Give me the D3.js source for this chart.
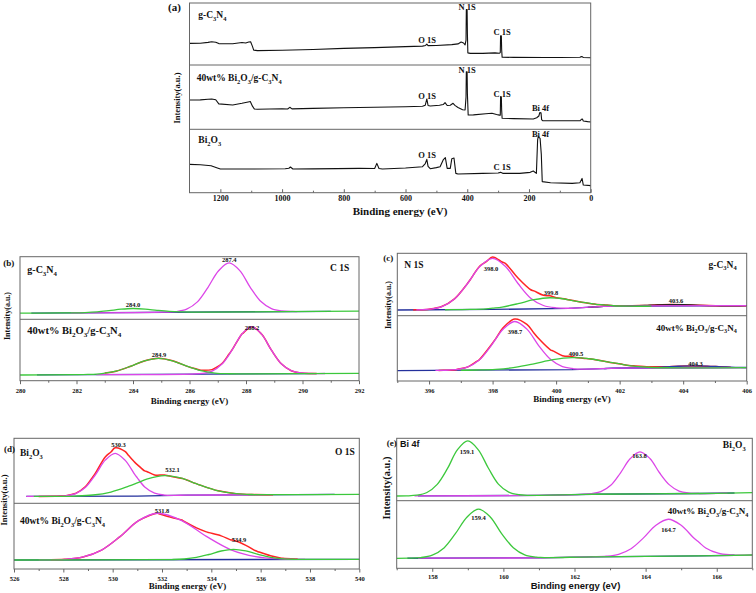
<!DOCTYPE html>
<html><head><meta charset="utf-8">
<script src="https://cdn.jsdelivr.net/npm/d3@7"></script>
<style>body{margin:0;background:#fff}svg{display:block}</style>
</head><body><svg id="c" width="756" height="593"></svg>
<script>
// ---------------- DATA ----------------
// (a) survey spectra: [binding energy eV, intensity (a.u., 0-100 per row)]
const surveyTicks = [1200, 1000, 800, 600, 400, 200, 0];
const surveyMinor = [1100, 900, 700, 500, 300, 100];
const surveyG = [[1300,34.8],[1265,35.0],[1240,36.5],[1228,37.4],[1215,36.8],[1205,34.5],[1160,34.3],[1130,36.2],[1118,35.5],[1108,37.2],[1102,37.5],[1096,30],[1092,24.0],[1080,23.2],[1000,23.8],[900,25.0],[800,26.8],[700,28.0],[600,29.6],[545,30.5],[535,31.5],[531,33.6],[527,31.2],[500,31.5],[450,32.8],[430,34.0],[420,37.0],[412,35.5],[407,32.5],[404,40],[403,89.3],[400.5,89.3],[399.5,50],[398,19.5],[390,18.7],[350,18.7],[310,19.5],[296,19.0],[293,20],[292,47],[289.5,47],[288.5,25],[287,12.5],[250,12.3],[150,12.2],[100,12.0],[35,12.5],[30,13.5],[27,13.4],[24,12.0],[0,11.8]];
const surveyComposite = [[1300,45.6],[1265,45.8],[1240,46.8],[1228,47.2],[1215,46.0],[1205,39.5],[1160,37.8],[1130,40.4],[1110,42.5],[1103,43.2],[1096,36],[1090,31.6],[1080,31.1],[1000,32.0],[982,31.5],[975,34.2],[968,31.8],[900,32.5],[800,33.5],[700,34.2],[600,35.0],[545,35.8],[536,37.5],[531,47.2],[527,37],[520,36.3],[490,37.3],[478,38.5],[472,41.5],[465,37.0],[455,37.5],[446,40.4],[440,37.2],[430,34],[415,30.5],[407,30],[404,50],[403,89.6],[400.5,89.6],[399.5,55],[397,22.3],[380,22.5],[340,24.3],[320,24.9],[305,23.0],[296,22.0],[293,22],[292,50.8],[289.5,50.5],[288.5,30],[287,17.1],[250,16.6],[186,16.1],[175,18],[168,20.7],[165,25.9],[161,25.5],[159,15],[156,13.5],[100,13.2],[35,13.2],[30,15.5],[27,16.1],[24,13.0],[10,12.0],[0,11.4]];
const surveyBi2O3 = [[1300,44.7],[1265,44.2],[1230,42.6],[1212,39.5],[1200,37.4],[1100,37.4],[990,37.8],[978,38.6],[973,40.5],[965,37.4],[900,37.6],[822,37.9],[750,38.4],[700,38.2],[693,46.3],[686,38.3],[675,37.4],[600,38.9],[545,41],[536,46],[531,52.6],[527,41.5],[520,37.9],[500,39.5],[488,41],[478,51.6],[471,55.3],[465,38.4],[455,38.4],[450,53.7],[443,54.7],[437,30.5],[430,29.5],[350,30.5],[300,31.0],[292,32.1],[285,30.5],[230,30.5],[196,32.1],[186,34.2],[176,30.5],[172,83.2],[170,88.4],[164,85.8],[160,60],[157,17.4],[130,15.8],[60,14.7],[35,15.8],[28,22.6],[24,12.1],[0,11.1]];

// (b) C 1s: baselines and fitted components [eV, height above baseline]
const c1sTicks = [280, 282, 284, 286, 288, 290, 292];
const c1sG_base = [[280,9.8],[292,13]];
const c1sG_284 = [[281.45,0.01],[281.88,0.08],[282.3,0.4],[282.73,1.34],[283.15,3.2],[283.58,5.38],[284.0,6.4],[284.43,5.38],[284.85,3.2],[285.28,1.34],[285.7,0.4],[286.13,0.08],[286.55,0.01]];
const c1sG_287 = [[285.15,0.15],[285.53,1.03],[285.9,4.89],[286.28,16.4],[286.65,39.2],[287.03,65.9],[287.4,78.3],[287.78,65.9],[288.15,39.2],[288.53,16.4],[288.9,4.89],[289.28,1.03],[289.65,0.15]];
const c1sC_base = [[280,9.3],[292,12]];
const c1sC_285 = [[281.9,0.05],[282.4,0.34],[282.9,1.63],[283.4,5.48],[283.9,13.05],[284.4,21.95],[284.9,26.1],[285.4,21.95],[285.9,13.05],[286.4,5.48],[286.9,1.63],[287.4,0.34],[287.9,0.05]];
const c1sC_288 = [[286.1,0.15],[286.45,1.01],[286.8,4.81],[287.15,16.15],[287.5,38.45],[287.85,64.67],[288.2,76.9],[288.55,64.67],[288.9,38.45],[289.25,16.15],[289.6,4.81],[289.95,1.01],[290.3,0.15]];

// (c) N 1s
const n1sTicks = [396, 398, 400, 402, 404, 406];
const n1sG_base = [[395,9.1],[398,10],[400.4,11.8],[401.5,14.8],[406,16]];
const n1sG_398 = [[395.6,0.16],[396.0,1.07],[396.4,5.13],[396.8,17.22],[397.2,41],[397.6,68.96],[398.0,82],[398.4,68.96],[398.8,41],[399.2,17.22],[399.6,5.13],[400.0,1.07],[400.4,0.16]];
const n1sG_400 = [[396.8,0.03],[397.3,0.23],[397.8,1.09],[398.3,3.65],[398.8,8.7],[399.3,14.63],[399.8,17.4],[400.3,14.63],[400.8,8.7],[401.3,3.65],[401.8,1.09],[402.3,0.23],[402.8,0.03]];
const n1sG_404 = [[401.2,0],[401.6,0.03],[402.0,0.16],[402.4,0.53],[402.8,1.25],[403.2,2.1],[403.6,2.5],[404.0,2.1],[404.4,1.25],[404.8,0.53],[405.2,0.16],[405.6,0.03],[406.0,0]];
const n1sC_base = [[395,15.8],[400.5,17.5],[402,19.8],[406,20.4]];
const n1sC_399 = [[396.45,0.14],[396.83,0.97],[397.2,4.64],[397.58,15.58],[397.95,37.1],[398.33,62.4],[398.7,74.2],[399.08,62.4],[399.45,37.1],[399.83,15.58],[400.2,4.64],[400.58,0.97],[400.95,0.14]];
const n1sC_401 = [[396.9,0.04],[397.5,0.24],[398.1,1.14],[398.7,3.82],[399.3,9.1],[399.9,15.3],[400.5,18.2],[401.1,15.3],[401.7,9.1],[402.3,3.82],[402.9,1.14],[403.5,0.24],[404.1,0.04]];
const n1sC_404 = [[401.6,0.01],[402.05,0.04],[402.5,0.19],[402.95,0.63],[403.4,1.5],[403.85,2.52],[404.3,3],[404.75,2.52],[405.2,1.5],[405.65,0.63],[406.0,0.25]];

// (d) O 1s
const o1sTicks = [526, 528, 530, 532, 534, 536, 538, 540];
const o1sB_base = [[526,10.5],[531,11],[533,12.5],[540,13.8]];
const o1sB_530 = [[527.7,0.13],[528.1,0.86],[528.5,4.13],[528.9,13.86],[529.3,33],[529.7,55.5],[530.1,66],[530.5,55.5],[530.9,33],[531.3,13.86],[531.7,4.13],[532.1,0.86],[532.5,0.13]];
const o1sB_532 = [[527.75,0.06],[528.48,0.4],[529.2,1.92],[529.93,6.45],[530.65,15.35],[531.38,25.82],[532.1,30.7],[532.83,25.82],[533.55,15.35],[534.28,6.45],[535.0,1.92],[535.73,0.4],[536.45,0.06]];
const o1sC_base = [[526,13.7],[540,14.8]];
const o1sC_532 = [[527.3,0.14],[528.05,0.93],[528.8,4.42],[529.55,14.85],[530.3,35.35],[531.05,59.46],[531.8,70.7],[532.8,59.46],[533.8,35.35],[534.8,14.85],[535.8,4.42],[536.8,0.93],[537.8,0.14]];
const o1sC_535 = [[531.9,0.03],[532.4,0.2],[532.9,0.97],[533.4,3.26],[533.9,7.75],[534.4,13.04],[534.9,15.5],[535.4,13.04],[535.9,7.75],[536.4,3.26],[536.9,0.97],[537.4,0.2],[537.9,0.03]];

// (e) Bi 4f
const bi4fTicks = [158, 160, 162, 164, 166];
const bi4fB_base = [[157,7.5],[161,8.5],[162.5,10.3],[165.5,11.5],[167,12.8]];
const bi4fB_159 = [[157.28,0.17],[157.56,1.15],[157.85,5.49],[158.14,18.44],[158.43,43.9],[158.71,73.84],[159.0,87.8],[159.29,73.84],[159.58,43.9],[159.86,18.44],[160.15,5.49],[160.44,1.15],[160.73,0.17]];
const bi4fB_164 = [[162.19,0.13],[162.47,0.88],[162.74,4.22],[163.02,14.18],[163.29,33.75],[163.57,56.77],[163.84,67.5],[164.12,56.77],[164.39,33.75],[164.67,14.18],[164.94,4.22],[165.22,0.88],[165.49,0.13]];
const bi4fC_base = [[157,14.8],[161,15.5],[162.5,17],[165.5,18.5],[167,19.7]];
const bi4fC_159 = [[157.35,0.14],[157.68,0.95],[158.0,4.51],[158.33,15.16],[158.65,36.1],[158.98,60.72],[159.3,72.2],[159.63,60.72],[159.95,36.1],[160.28,15.16],[160.6,4.51],[160.93,0.95],[161.25,0.14]];
const bi4fC_165 = [[162.54,0.11],[162.89,0.71],[163.24,3.41],[163.59,11.45],[163.94,27.25],[164.29,45.83],[164.64,54.5],[164.99,45.83],[165.34,27.25],[165.69,11.45],[166.04,3.41],[166.39,0.71],[166.74,0.11]];

// ---------------- DRAWING ----------------
const MAG = "#dc46e8", GRN = "#3cc83c", RED = "#ff2424", NAVY = "#24309c", FRAME = "#666";
const SERIF = "'Liberation Serif','Times New Roman',serif";
const SANS = "'Liberation Sans',Arial,sans-serif";
const svg = d3.select("#c");

function rich(g, str, x, y, size, anchor, fam) {
  const t = g.append("text").attr("x", x).attr("y", y).attr("font-size", size)
    .attr("text-anchor", anchor || "start").attr("font-family", fam || SERIF)
    .attr("font-weight", "bold").attr("fill", "#111");
  const parts = str.split(/(_\d)/).filter(s => s.length);
  let shifted = 0; const sh = size * 0.3;
  parts.forEach(p => {
    if (p[0] === "_") { t.append("tspan").attr("font-size", size * 0.68).attr("dy", sh - shifted).text(p.slice(1)); shifted = sh; }
    else { t.append("tspan").attr("dy", -shifted).text(p); shifted = 0; }
  });
  return t;
}
const bis = d3.bisector(d => d[0]).right;
function lerp(arr, x) {
  if (x <= arr[0][0]) return arr[0][1];
  if (x >= arr[arr.length - 1][0]) return arr[arr.length - 1][1];
  const i = bis(arr, x); const a = arr[i - 1], b = arr[i];
  return a[1] + (b[1] - a[1]) * (x - a[0]) / (b[0] - a[0]);
}
function peakAt(arr, x) { return (x < arr[0][0] || x > arr[arr.length - 1][0]) ? 0 : lerp(arr, x); }
function gridFor(ext, lists) {
  const s = new Set([ext[0], ext[1]]);
  lists.forEach(l => l.forEach(p => { if (p[0] > ext[0] && p[0] < ext[1]) s.add(p[0]); }));
  return [...s].sort((a, b) => a - b);
}

function drawPanel(P) {
  const g = svg.append("g");
  const x = d3.scaleLinear().domain(P.domain).range([P.x0, P.x1]);
  const rows = P.rows;
  P.subs.forEach((S, i) => {
    const y = d3.scaleLinear().domain([0, 100]).range([rows[i + 1], rows[i]]);
    const smooth = d3.line().x(d => x(d[0])).y(d => y(d[1])).curve(d3.curveCatmullRom.alpha(0.5));
    const lin = d3.line().x(d => x(d[0])).y(d => y(d[1]));
    const path = (pts, col, w, gen) => g.append("path").attr("d", (gen || smooth)(pts)).attr("fill", "none")
      .attr("stroke", col).attr("stroke-width", w).attr("stroke-linejoin", "round");
    if (S.survey) { path(S.survey, "#111", 1.1, lin); return; }
    if (S.navy) path(gridFor(S.navy, [S.base]).map(v => [v, lerp(S.base, v)]), NAVY, 1.3, lin);
    if (S.red) {
      const xs = gridFor(S.red, [S.base].concat(S.comps.map(c => c.d)));
      path(xs.map(v => [v, lerp(S.base, v) + d3.sum(S.comps, c => peakAt(c.d, v))]), RED, 1.5);
    }
    S.comps.forEach(c => {
      const xs = gridFor(c.ext, [S.base, c.d]);
      path(xs.map(v => [v, lerp(S.base, v) + peakAt(c.d, v)]), c.col, c.w || 1.3);
    });
  });
  // frame and dividers
  g.append("rect").attr("x", P.x0).attr("y", rows[0]).attr("width", P.x1 - P.x0)
    .attr("height", rows[rows.length - 1] - rows[0]).attr("fill", "none").attr("stroke", FRAME).attr("stroke-width", 1);
  rows.slice(1, -1).forEach(r => g.append("line").attr("x1", P.x0).attr("x2", P.x1).attr("y1", r).attr("y2", r)
    .attr("stroke", FRAME).attr("stroke-width", 1));
  // axes
  const yb = rows[rows.length - 1];
  const sgn = P.inward ? -1 : 1;
  const gm = g.append("g").attr("transform", `translate(0,${yb})`)
    .call(d3.axisBottom(x).tickValues(P.minor).tickSize(2 * sgn).tickFormat(""));
  const gM = g.append("g").attr("transform", `translate(0,${yb})`)
    .call(d3.axisBottom(x).tickValues(P.major).tickSize(3.5 * sgn).tickFormat(d => d));
  [gm, gM].forEach(a => { a.select(".domain").remove(); a.selectAll("line").attr("stroke", FRAME); });
  gM.selectAll("text").attr("y", P.lblOff).attr("dy", 0).attr("font-size", P.lblSize)
    .attr("font-family", SERIF).attr("font-weight", "bold").attr("fill", "#111");
  // titles
  g.append("text").attr("x", P.xt[0]).attr("y", P.xt[1]).attr("text-anchor", "middle")
    .attr("font-size", P.xt[2]).attr("font-family", P.xt[3] || SERIF).attr("font-weight", "bold").attr("fill", "#111")
    .text("Binding energy (eV)");
  g.append("text").attr("transform", `translate(${P.yt[0]},${P.yt[1]}) rotate(-90)`).attr("text-anchor", "middle")
    .attr("font-size", P.yt[2]).attr("font-family", P.yt[3] || SERIF).attr("font-weight", "bold").attr("fill", "#111")
    .text("Intensity(a.u.)");
  (P.labels || []).forEach(L => rich(g, L[0], L[1], L[2], L[3], L[4], L[5]));
}

const oddTicks = (a, b) => d3.range(a, b + 0.001, 1).filter(v => Math.round(v) % 2 !== 0);

drawPanel({
  domain: [1300, 0], x0: 189.5, x1: 590.7, rows: [3, 65, 129.3, 192.7], inward: true,
  major: surveyTicks, minor: surveyMinor, lblOff: 8.5, lblSize: 8,
  xt: [400, 214.5, 11], yt: [180, 98, 8.5],
  subs: [{ survey: surveyG }, { survey: surveyComposite }, { survey: surveyBi2O3 }],
  labels: [["(a)", 168, 10.5, 11], ["g-C_3N_4", 198.3, 18, 9.5], ["N 1S", 467, 9.5, 8.5, "middle"],
    ["O 1S", 427, 43, 8.5, "middle"], ["C 1S", 502, 35, 8.5, "middle"],
    ["40wt% Bi_2O_3/g-C_3N_4", 196.7, 81, 9.5], ["N 1S", 467, 73, 8.5, "middle"], ["O 1S", 427, 99, 8.5, "middle"],
    ["C 1S", 502, 97, 8.5, "middle"], ["Bi 4f", 540.5, 111, 8.5, "middle"],
    ["Bi_2O_3", 198.3, 143, 9.5], ["Bi 4f", 540.5, 137, 8.5, "middle"], ["O 1S", 427, 158, 8.5, "middle"], ["C 1S", 502, 169.5, 8.5, "middle"]]
});

drawPanel({
  domain: [280, 292], x0: 20, x1: 359, rows: [256.7, 319.3, 380.7],
  major: c1sTicks, minor: oddTicks(280, 292), lblOff: 12.3, lblSize: 6.5,
  xt: [189.5, 404, 9], yt: [10, 316, 8],
  subs: [
    { base: c1sG_base, navy: [280.4, 291], comps: [{ d: c1sG_287, col: MAG, ext: [281.8, 289.8] }, { d: c1sG_284, col: GRN, ext: [280, 292] }] },
    { base: c1sC_base, navy: [280.6, 290.5], red: [283, 290.5], comps: [{ d: c1sC_288, col: MAG, ext: [282.7, 290.8] }, { d: c1sC_285, col: GRN, ext: [280, 292] }] }
  ],
  labels: [["(b)", 3.3, 266, 9], ["g-C_3N_4", 27.3, 273, 10], ["C 1S", 330, 271, 9.5],
    ["284.0", 133, 306.5, 6.5, "middle"], ["287.4", 229.3, 261.5, 6.5, "middle"],
    ["40wt% Bi_2O_3/g-C_3N_4", 27.3, 334, 10.5], ["284.9", 159, 356.5, 6.5, "middle"], ["288.2", 252, 330, 6.5, "middle"]]
});

drawPanel({
  domain: [395, 406], x0: 397.3, x1: 746.7, rows: [253.3, 315.7, 381],
  major: n1sTicks, minor: oddTicks(395, 406), lblOff: 11.5, lblSize: 6.5,
  xt: [572, 402, 9], yt: [391, 305, 8],
  subs: [
    { base: n1sG_base, navy: [395, 406], red: [395.5, 406], comps: [{ d: n1sG_404, col: "#222", ext: [401, 406] }, { d: n1sG_398, col: MAG, ext: [395.6, 406] }, { d: n1sG_400, col: GRN, ext: [396.5, 403] }] },
    { base: n1sC_base, navy: [395, 406], red: [396.3, 405.5], comps: [{ d: n1sC_404, col: "#2a3aa8", ext: [401.5, 406] }, { d: n1sC_399, col: MAG, ext: [396.2, 406] }, { d: n1sC_401, col: GRN, ext: [397, 406] }] }
  ],
  labels: [["(c)", 383.3, 261, 9], ["N 1S", 404.3, 267.5, 9.5], ["g-C_3N_4", 736.7, 267.5, 9.5, "end"],
    ["398.0", 491, 270.5, 6.5, "middle"], ["399.8", 551, 295, 6.5, "middle"], ["403.6", 676, 302.5, 6.5, "middle"],
    ["40wt% Bi_2O_3/g-C_3N_4", 736.7, 330.5, 9, "end"], ["398.7", 515, 334, 6.5, "middle"],
    ["400.5", 576, 356, 6.5, "middle"], ["404.3", 695.5, 365.5, 6.5, "middle"]]
});

drawPanel({
  domain: [526, 540], x0: 14, x1: 359.3, rows: [438.3, 503.3, 569],
  major: o1sTicks, minor: oddTicks(526, 540), lblOff: 11.5, lblSize: 6.5,
  xt: [187.5, 588.5, 9], yt: [7, 500, 8.5],
  subs: [
    { base: o1sB_base, navy: [526.5, 539], red: [527, 536.5], comps: [{ d: o1sB_530, col: MAG, ext: [526.5, 535.5] }, { d: o1sB_532, col: GRN, ext: [526.8, 540] }] },
    { base: o1sC_base, navy: [526, 540], red: [527.5, 537.5], comps: [{ d: o1sC_532, col: MAG, ext: [527, 537.8] }, { d: o1sC_535, col: GRN, ext: [526, 540] }] }
  ],
  labels: [["(d)", 4, 451.5, 9], ["Bi_2O_3", 20, 456, 9.5], ["O 1S", 335, 455, 9.5],
    ["530.3", 118.5, 446.5, 6.5, "middle"], ["532.1", 172.5, 471.5, 6.5, "middle"],
    ["40wt% Bi_2O_3/g-C_3N_4", 20, 524, 9.5], ["531.8", 162, 513, 6.5, "middle"], ["534.9", 239, 541.5, 6.5, "middle"]]
});

drawPanel({
  domain: [157, 167], x0: 396.7, x1: 752.3, rows: [438.3, 500.7, 568.3],
  major: bi4fTicks, minor: oddTicks(157, 167), lblOff: 10.7, lblSize: 6.5,
  xt: [575.5, 589, 9.5, SANS], yt: [390, 488, 10.5],
  subs: [
    { base: bi4fB_base, navy: [157.6, 166.5], comps: [{ d: bi4fB_164, col: MAG, ext: [157.5, 166.3] }, { d: bi4fB_159, col: GRN, ext: [157, 167] }] },
    { base: bi4fC_base, navy: [157.3, 166.5], comps: [{ d: bi4fC_165, col: MAG, ext: [157.6, 167] }, { d: bi4fC_159, col: GRN, ext: [157, 167] }] }
  ],
  labels: [["(e)", 386.7, 445.5, 9], ["Bi 4f", 400, 446.5, 9, "start", SANS], ["Bi_2O_3", 745.7, 448, 9.5, "end"],
    ["159.1", 467, 454, 6.5, "middle"], ["163.8", 639.5, 458, 6.5, "middle"],
    ["40wt% Bi_2O_3/g-C_3N_4", 748.3, 514, 9, "end"], ["159.4", 478.5, 520, 6.5, "middle"], ["164.7", 668.5, 531.5, 6.5, "middle"]]
});
</script></body></html>
